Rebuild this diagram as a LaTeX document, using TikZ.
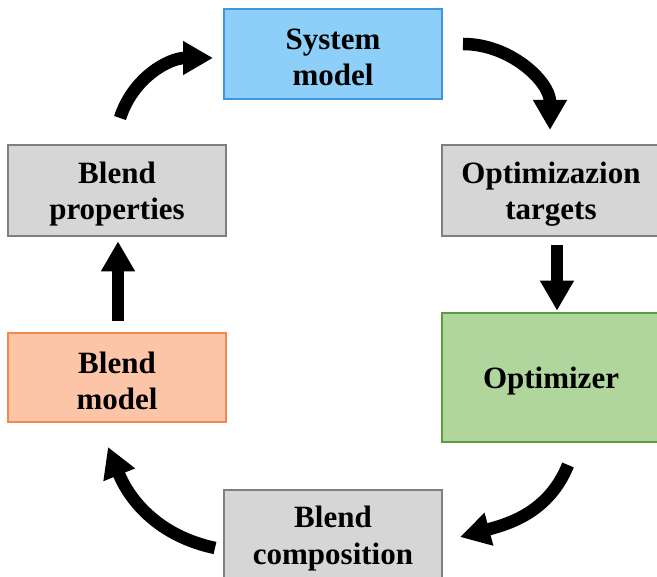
\documentclass[tikz,border=0pt]{standalone}
\usepackage{fontspec}
\setmainfont{Liberation Serif}
\usetikzlibrary{arrows.meta}
\definecolor{bluefill}{HTML}{8DCFF8}
\definecolor{blueline}{HTML}{3E95E0}
\definecolor{greyfill}{HTML}{D6D6D6}
\definecolor{greyline}{HTML}{7F7F7F}
\definecolor{orangefill}{HTML}{FCC5A8}
\definecolor{orangeline}{HTML}{F4884A}
\definecolor{greenfill}{HTML}{B0D69E}
\definecolor{greenline}{HTML}{5C9C3C}
\tikzset{
  box/.style={rectangle, line width=1.3pt, minimum width=218pt, inner sep=0pt},
  txt/.style={inner sep=0pt, align=center, font=\fontsize{31}{36.5}\selectfont\bfseries},
  bluebox/.style={box, draw=blueline, fill=bluefill},
  greybox/.style={box, draw=greyline, fill=greyfill},
  orangebox/.style={box, draw=orangeline, fill=orangefill},
  greenbox/.style={box, draw=greenline, fill=greenfill},
  flow/.style={line width=12.5pt, -{Triangle[width=32pt,length=30pt]}}
}
\begin{document}
\begin{tikzpicture}[x=1pt,y=1pt]
\useasboundingbox (0,0) rectangle (657,577);
\fill[white] (0,0) rectangle (657,577);
\node[bluebox, minimum height=90pt] (sys) at (333,523) {};
\node[greybox, minimum height=91pt] (prop) at (117,386.5) {};
\node[greybox, minimum height=91pt] (targ) at (551,386.5) {};
\node[orangebox, minimum height=89pt] (bmod) at (117,199.5) {};
\node[greenbox, minimum height=129pt] (opt) at (551,199.5) {};
\node[greybox, minimum height=90pt] (comp) at (333,42) {};
\node[txt] (sysT) at ([yshift=-3.5pt]sys.center) {System\\model};
\node[txt] (propT) at ([yshift=-3.5pt]prop.center) {Blend\\properties};
\node[txt] (targT) at ([yshift=-3.5pt]targ.center) {Optimizazion\\targets};
\node[txt] (bmodT) at ([yshift=-3.5pt]bmod.center) {Blend\\model};
\node[txt] (optT) at ([yshift=-3.5pt]opt.center) {Optimizer};
\node[txt] (compT) at ([yshift=-3.5pt]comp.center) {Blend\\composition};
\coordinate (a1s) at (120,459);
\coordinate (a1e) at (213,519);
\coordinate (a2s) at (463,533);
\coordinate (a2e) at (550,447);
\coordinate (a4s) at (568,112);
\coordinate (a4e) at (460,40);
\coordinate (a5s) at (215,29);
\coordinate (a5e) at (108,130);
\draw[flow] (a1s) to[out=72,in=180] (a1e);
\draw[flow] (a2s) to[out=0,in=90] (a2e);
\draw[flow] (targ.south -| 557,0) ++(0,-8) -- ++(0,-66);
\draw[flow] (a4s) to[out=248,in=15] (a4e);
\draw[flow] (a5s) to[out=168,in=-68] (a5e);
\draw[flow] (bmod.north -| 118,0) ++(0,11) -- ++(0,80);
\end{tikzpicture}
\end{document}
